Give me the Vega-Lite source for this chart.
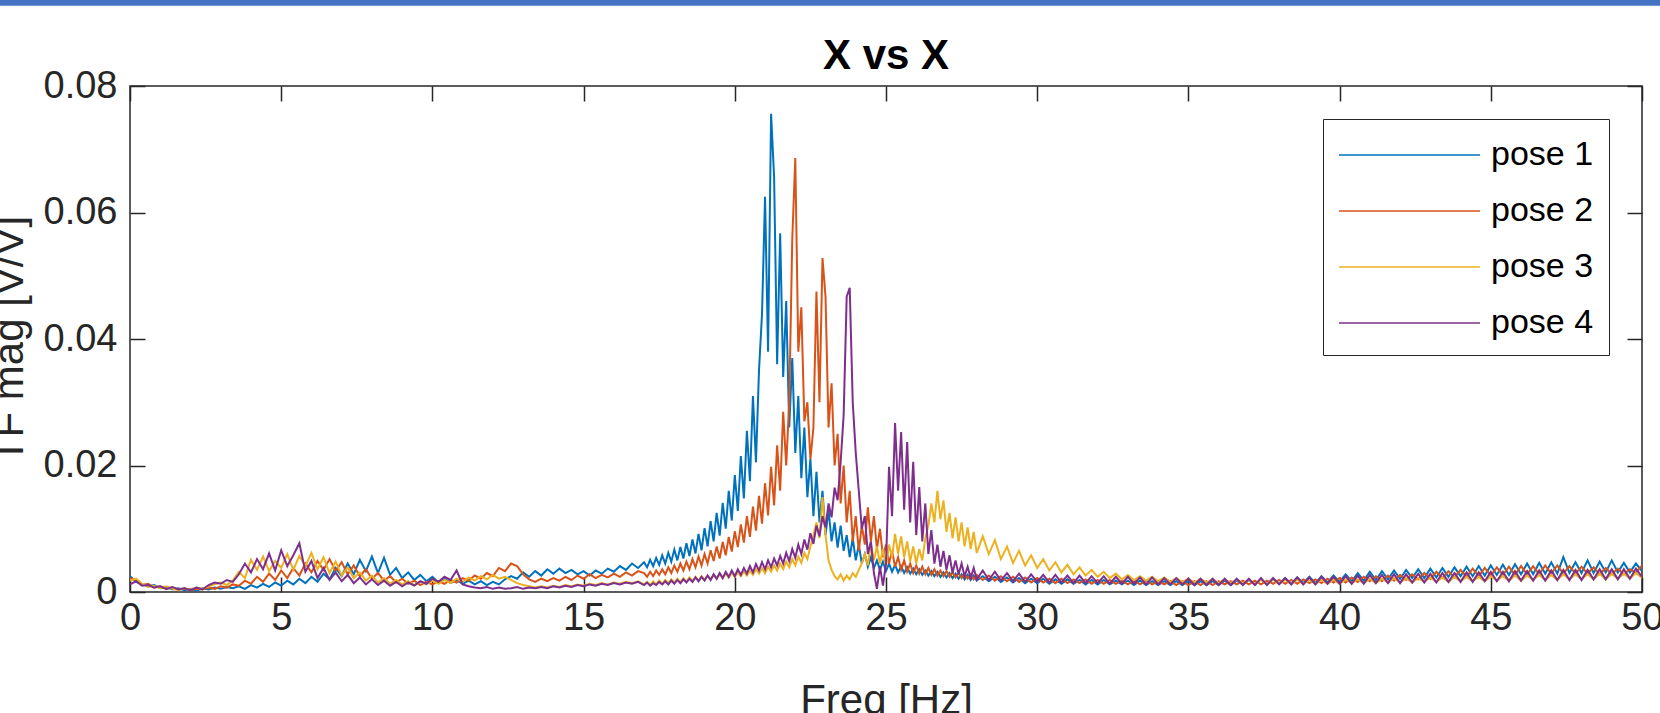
{
"$schema": "https://vega.github.io/schema/vega-lite/v6.json",
"width": 1512, "height": 506,
"autosize": {"type": "none"},
"padding": {"left": 130, "top": 86, "right": 18, "bottom": 121},
"background": "white",
"title": {"text": "X vs X", "fontSize": 42, "fontWeight": "bold", "font": "Liberation Sans", "color": "#000000", "frame": "group", "anchor": "middle", "baseline": "alphabetic", "offset": -112},
"config": {"view": {"stroke": "#262626", "strokeWidth": 1.5}, "font": "Liberation Sans"},
"datasets": {"tf": [
{"f":0.0,"p1":0.0025,"p2":0.0022,"p3":0.0018,"p4":0.0012},
{"f":0.2,"p1":0.0016,"p2":0.0019,"p3":0.0021,"p4":0.0017},
{"f":0.4,"p1":0.0012,"p2":0.0011,"p3":0.0013,"p4":0.0010},
{"f":0.6,"p1":0.0009,"p2":0.0013,"p3":0.0008,"p4":0.0011},
{"f":0.8,"p1":0.0011,"p2":0.0007,"p3":0.0010,"p4":0.0007},
{"f":1.0,"p1":0.0006,"p2":0.0009,"p3":0.0006,"p4":0.0009},
{"f":1.2,"p1":0.0008,"p2":0.0005,"p3":0.0009,"p4":0.0005},
{"f":1.4,"p1":0.0004,"p2":0.0007,"p3":0.0005,"p4":0.0008},
{"f":1.6,"p1":0.0006,"p2":0.0004,"p3":0.0003,"p4":0.0004},
{"f":1.8,"p1":0.0003,"p2":0.0006,"p3":0.0006,"p4":0.0006},
{"f":2.0,"p1":0.0005,"p2":0.0003,"p3":0.0004,"p4":0.0003},
{"f":2.2,"p1":0.0002,"p2":0.0005,"p3":0.0007,"p4":0.0007},
{"f":2.4,"p1":0.0006,"p2":0.0004,"p3":0.0005,"p4":0.0004},
{"f":2.6,"p1":0.0004,"p2":0.0007,"p3":0.0009,"p4":0.0011},
{"f":2.8,"p1":0.0007,"p2":0.0005,"p3":0.0012,"p4":0.0015},
{"f":3.0,"p1":0.0005,"p2":0.0009,"p3":0.0015,"p4":0.0013},
{"f":3.2,"p1":0.0008,"p2":0.0007,"p3":0.0011,"p4":0.0019},
{"f":3.4,"p1":0.0006,"p2":0.0012,"p3":0.0018,"p4":0.0016},
{"f":3.6,"p1":0.0009,"p2":0.0010,"p3":0.0032,"p4":0.0028},
{"f":3.8,"p1":0.0005,"p2":0.0018,"p3":0.0022,"p4":0.0045},
{"f":4.0,"p1":0.0011,"p2":0.0013,"p3":0.0051,"p4":0.0031},
{"f":4.2,"p1":0.0007,"p2":0.0024,"p3":0.0035,"p4":0.0052},
{"f":4.4,"p1":0.0013,"p2":0.0016,"p3":0.0056,"p4":0.0036},
{"f":4.6,"p1":0.0008,"p2":0.0029,"p3":0.0033,"p4":0.0061},
{"f":4.8,"p1":0.0015,"p2":0.0019,"p3":0.0049,"p4":0.0034},
{"f":5.0,"p1":0.0010,"p2":0.0034,"p3":0.0038,"p4":0.0066},
{"f":5.2,"p1":0.0018,"p2":0.0022,"p3":0.0060,"p4":0.0041},
{"f":5.4,"p1":0.0012,"p2":0.0038,"p3":0.0035,"p4":0.0058},
{"f":5.6,"p1":0.0021,"p2":0.0026,"p3":0.0057,"p4":0.0077},
{"f":5.8,"p1":0.0014,"p2":0.0045,"p3":0.0041,"p4":0.0032},
{"f":6.0,"p1":0.0024,"p2":0.0031,"p3":0.0062,"p4":0.0049},
{"f":6.2,"p1":0.0016,"p2":0.0049,"p3":0.0036,"p4":0.0022},
{"f":6.4,"p1":0.0029,"p2":0.0035,"p3":0.0055,"p4":0.0038},
{"f":6.6,"p1":0.0020,"p2":0.0052,"p3":0.0030,"p4":0.0019},
{"f":6.8,"p1":0.0038,"p2":0.0033,"p3":0.0048,"p4":0.0031},
{"f":7.0,"p1":0.0025,"p2":0.0047,"p3":0.0026,"p4":0.0017},
{"f":7.2,"p1":0.0045,"p2":0.0028,"p3":0.0039,"p4":0.0027},
{"f":7.4,"p1":0.0028,"p2":0.0042,"p3":0.0022,"p4":0.0014},
{"f":7.6,"p1":0.0051,"p2":0.0025,"p3":0.0031,"p4":0.0023},
{"f":7.8,"p1":0.0033,"p2":0.0036,"p3":0.0018,"p4":0.0012},
{"f":8.0,"p1":0.0056,"p2":0.0021,"p3":0.0026,"p4":0.0020},
{"f":8.2,"p1":0.0030,"p2":0.0030,"p3":0.0015,"p4":0.0011},
{"f":8.4,"p1":0.0054,"p2":0.0018,"p3":0.0022,"p4":0.0018},
{"f":8.6,"p1":0.0027,"p2":0.0025,"p3":0.0013,"p4":0.0010},
{"f":8.8,"p1":0.0038,"p2":0.0015,"p3":0.0019,"p4":0.0016},
{"f":9.0,"p1":0.0022,"p2":0.0021,"p3":0.0012,"p4":0.0009},
{"f":9.2,"p1":0.0031,"p2":0.0013,"p3":0.0017,"p4":0.0015},
{"f":9.4,"p1":0.0019,"p2":0.0018,"p3":0.0011,"p4":0.0010},
{"f":9.6,"p1":0.0027,"p2":0.0011,"p3":0.0016,"p4":0.0017},
{"f":9.8,"p1":0.0017,"p2":0.0016,"p3":0.0012,"p4":0.0013},
{"f":10.0,"p1":0.0024,"p2":0.0012,"p3":0.0018,"p4":0.0021},
{"f":10.2,"p1":0.0015,"p2":0.0017,"p3":0.0013,"p4":0.0016},
{"f":10.4,"p1":0.0021,"p2":0.0013,"p3":0.0019,"p4":0.0024},
{"f":10.6,"p1":0.0014,"p2":0.0019,"p3":0.0014,"p4":0.0019},
{"f":10.8,"p1":0.0019,"p2":0.0015,"p3":0.0021,"p4":0.0034},
{"f":11.0,"p1":0.0013,"p2":0.0022,"p3":0.0016,"p4":0.0012},
{"f":11.2,"p1":0.0018,"p2":0.0018,"p3":0.0023,"p4":0.0009},
{"f":11.4,"p1":0.0012,"p2":0.0026,"p3":0.0018,"p4":0.0007},
{"f":11.6,"p1":0.0017,"p2":0.0021,"p3":0.0025,"p4":0.0006},
{"f":11.8,"p1":0.0011,"p2":0.0030,"p3":0.0020,"p4":0.0008},
{"f":12.0,"p1":0.0016,"p2":0.0025,"p3":0.0027,"p4":0.0005},
{"f":12.2,"p1":0.0012,"p2":0.0038,"p3":0.0021,"p4":0.0007},
{"f":12.4,"p1":0.0020,"p2":0.0033,"p3":0.0024,"p4":0.0005},
{"f":12.6,"p1":0.0025,"p2":0.0045,"p3":0.0019,"p4":0.0006},
{"f":12.8,"p1":0.0021,"p2":0.0041,"p3":0.0014,"p4":0.0008},
{"f":13.0,"p1":0.0031,"p2":0.0028,"p3":0.0011,"p4":0.0005},
{"f":13.2,"p1":0.0024,"p2":0.0020,"p3":0.0009,"p4":0.0007},
{"f":13.4,"p1":0.0033,"p2":0.0016,"p3":0.0007,"p4":0.0006},
{"f":13.6,"p1":0.0026,"p2":0.0021,"p3":0.0009,"p4":0.0008},
{"f":13.8,"p1":0.0036,"p2":0.0017,"p3":0.0007,"p4":0.0006},
{"f":14.0,"p1":0.0029,"p2":0.0022,"p3":0.0010,"p4":0.0009},
{"f":14.2,"p1":0.0037,"p2":0.0018,"p3":0.0008,"p4":0.0007},
{"f":14.4,"p1":0.0030,"p2":0.0024,"p3":0.0011,"p4":0.0010},
{"f":14.6,"p1":0.0035,"p2":0.0019,"p3":0.0009,"p4":0.0008},
{"f":14.8,"p1":0.0028,"p2":0.0026,"p3":0.0012,"p4":0.0011},
{"f":15.0,"p1":0.0033,"p2":0.0021,"p3":0.0010,"p4":0.0009},
{"f":15.2,"p1":0.0026,"p2":0.0028,"p3":0.0013,"p4":0.0012},
{"f":15.4,"p1":0.0034,"p2":0.0022,"p3":0.0011,"p4":0.0010},
{"f":15.6,"p1":0.0029,"p2":0.0027,"p3":0.0014,"p4":0.0013},
{"f":15.8,"p1":0.0037,"p2":0.0023,"p3":0.0012,"p4":0.0011},
{"f":16.0,"p1":0.0032,"p2":0.0029,"p3":0.0015,"p4":0.0014},
{"f":16.2,"p1":0.0041,"p2":0.0024,"p3":0.0013,"p4":0.0012},
{"f":16.4,"p1":0.0035,"p2":0.0031,"p3":0.0016,"p4":0.0015},
{"f":16.6,"p1":0.0045,"p2":0.0026,"p3":0.0014,"p4":0.0013},
{"f":16.8,"p1":0.0038,"p2":0.0033,"p3":0.0017,"p4":0.0016},
{"f":17.0,"p1":0.0047,"p2":0.0030,"p3":0.0012,"p4":0.0011},
{"f":17.1,"p1":0.0039,"p2":0.0024,"p3":0.0016,"p4":0.0015},
{"f":17.2,"p1":0.0051,"p2":0.0032,"p3":0.0011,"p4":0.0010},
{"f":17.3,"p1":0.0041,"p2":0.0025,"p3":0.0017,"p4":0.0014},
{"f":17.4,"p1":0.0054,"p2":0.0034,"p3":0.0012,"p4":0.0011},
{"f":17.5,"p1":0.0043,"p2":0.0027,"p3":0.0018,"p4":0.0016},
{"f":17.6,"p1":0.0058,"p2":0.0036,"p3":0.0013,"p4":0.0012},
{"f":17.7,"p1":0.0045,"p2":0.0028,"p3":0.0019,"p4":0.0017},
{"f":17.8,"p1":0.0062,"p2":0.0039,"p3":0.0014,"p4":0.0012},
{"f":17.9,"p1":0.0048,"p2":0.0030,"p3":0.0020,"p4":0.0018},
{"f":18.0,"p1":0.0067,"p2":0.0042,"p3":0.0015,"p4":0.0013},
{"f":18.1,"p1":0.0050,"p2":0.0032,"p3":0.0021,"p4":0.0019},
{"f":18.2,"p1":0.0071,"p2":0.0045,"p3":0.0015,"p4":0.0014},
{"f":18.3,"p1":0.0053,"p2":0.0034,"p3":0.0022,"p4":0.0020},
{"f":18.4,"p1":0.0077,"p2":0.0048,"p3":0.0016,"p4":0.0015},
{"f":18.5,"p1":0.0057,"p2":0.0036,"p3":0.0023,"p4":0.0021},
{"f":18.6,"p1":0.0083,"p2":0.0052,"p3":0.0017,"p4":0.0016},
{"f":18.7,"p1":0.0061,"p2":0.0039,"p3":0.0024,"p4":0.0023},
{"f":18.8,"p1":0.0092,"p2":0.0056,"p3":0.0018,"p4":0.0017},
{"f":18.9,"p1":0.0066,"p2":0.0042,"p3":0.0025,"p4":0.0024},
{"f":19.0,"p1":0.0101,"p2":0.0060,"p3":0.0019,"p4":0.0018},
{"f":19.1,"p1":0.0072,"p2":0.0045,"p3":0.0026,"p4":0.0026},
{"f":19.2,"p1":0.0112,"p2":0.0066,"p3":0.0020,"p4":0.0019},
{"f":19.3,"p1":0.0080,"p2":0.0049,"p3":0.0027,"p4":0.0028},
{"f":19.4,"p1":0.0125,"p2":0.0072,"p3":0.0021,"p4":0.0021},
{"f":19.5,"p1":0.0089,"p2":0.0053,"p3":0.0028,"p4":0.0030},
{"f":19.6,"p1":0.0141,"p2":0.0079,"p3":0.0022,"p4":0.0022},
{"f":19.7,"p1":0.0100,"p2":0.0058,"p3":0.0029,"p4":0.0032},
{"f":19.8,"p1":0.0160,"p2":0.0087,"p3":0.0023,"p4":0.0024},
{"f":19.9,"p1":0.0113,"p2":0.0064,"p3":0.0030,"p4":0.0034},
{"f":20.0,"p1":0.0185,"p2":0.0096,"p3":0.0024,"p4":0.0025},
{"f":20.1,"p1":0.0128,"p2":0.0071,"p3":0.0031,"p4":0.0036},
{"f":20.2,"p1":0.0215,"p2":0.0107,"p3":0.0025,"p4":0.0027},
{"f":20.3,"p1":0.0148,"p2":0.0078,"p3":0.0032,"p4":0.0038},
{"f":20.4,"p1":0.0255,"p2":0.0120,"p3":0.0026,"p4":0.0029},
{"f":20.5,"p1":0.0175,"p2":0.0087,"p3":0.0034,"p4":0.0041},
{"f":20.6,"p1":0.0310,"p2":0.0135,"p3":0.0027,"p4":0.0031},
{"f":20.7,"p1":0.0205,"p2":0.0097,"p3":0.0036,"p4":0.0044},
{"f":20.8,"p1":0.0350,"p2":0.0152,"p3":0.0029,"p4":0.0034},
{"f":20.9,"p1":0.0440,"p2":0.0108,"p3":0.0038,"p4":0.0047},
{"f":21.0,"p1":0.0625,"p2":0.0172,"p3":0.0030,"p4":0.0036},
{"f":21.1,"p1":0.0380,"p2":0.0121,"p3":0.0040,"p4":0.0050},
{"f":21.2,"p1":0.0756,"p2":0.0198,"p3":0.0032,"p4":0.0039},
{"f":21.3,"p1":0.0656,"p2":0.0137,"p3":0.0042,"p4":0.0053},
{"f":21.4,"p1":0.0360,"p2":0.0232,"p3":0.0034,"p4":0.0042},
{"f":21.5,"p1":0.0567,"p2":0.0160,"p3":0.0045,"p4":0.0057},
{"f":21.6,"p1":0.0340,"p2":0.0285,"p3":0.0036,"p4":0.0045},
{"f":21.7,"p1":0.0460,"p2":0.0200,"p3":0.0048,"p4":0.0062},
{"f":21.8,"p1":0.0260,"p2":0.0300,"p3":0.0039,"p4":0.0049},
{"f":21.9,"p1":0.0370,"p2":0.0557,"p3":0.0052,"p4":0.0068},
{"f":22.0,"p1":0.0220,"p2":0.0686,"p3":0.0042,"p4":0.0054},
{"f":22.1,"p1":0.0310,"p2":0.0380,"p3":0.0056,"p4":0.0075},
{"f":22.2,"p1":0.0180,"p2":0.0450,"p3":0.0046,"p4":0.0060},
{"f":22.3,"p1":0.0260,"p2":0.0270,"p3":0.0062,"p4":0.0083},
{"f":22.4,"p1":0.0150,"p2":0.0300,"p3":0.0052,"p4":0.0067},
{"f":22.5,"p1":0.0210,"p2":0.0210,"p3":0.0072,"p4":0.0093},
{"f":22.6,"p1":0.0120,"p2":0.0260,"p3":0.0090,"p4":0.0076},
{"f":22.7,"p1":0.0190,"p2":0.0475,"p3":0.0110,"p4":0.0105},
{"f":22.8,"p1":0.0110,"p2":0.0300,"p3":0.0085,"p4":0.0088},
{"f":22.9,"p1":0.0160,"p2":0.0528,"p3":0.0150,"p4":0.0120},
{"f":23.0,"p1":0.0090,"p2":0.0467,"p3":0.0090,"p4":0.0102},
{"f":23.1,"p1":0.0130,"p2":0.0260,"p3":0.0050,"p4":0.0140},
{"f":23.2,"p1":0.0080,"p2":0.0330,"p3":0.0035,"p4":0.0118},
{"f":23.3,"p1":0.0110,"p2":0.0200,"p3":0.0025,"p4":0.0165},
{"f":23.4,"p1":0.0070,"p2":0.0250,"p3":0.0020,"p4":0.0145},
{"f":23.5,"p1":0.0105,"p2":0.0140,"p3":0.0028,"p4":0.0205},
{"f":23.6,"p1":0.0065,"p2":0.0200,"p3":0.0018,"p4":0.0280},
{"f":23.7,"p1":0.0090,"p2":0.0110,"p3":0.0026,"p4":0.0467},
{"f":23.8,"p1":0.0055,"p2":0.0160,"p3":0.0020,"p4":0.0481},
{"f":23.9,"p1":0.0085,"p2":0.0080,"p3":0.0030,"p4":0.0300},
{"f":24.0,"p1":0.0050,"p2":0.0120,"p3":0.0024,"p4":0.0220},
{"f":24.1,"p1":0.0075,"p2":0.0065,"p3":0.0035,"p4":0.0160},
{"f":24.2,"p1":0.0045,"p2":0.0105,"p3":0.0045,"p4":0.0100},
{"f":24.3,"p1":0.0060,"p2":0.0075,"p3":0.0060,"p4":0.0120},
{"f":24.4,"p1":0.0040,"p2":0.0134,"p3":0.0042,"p4":0.0060},
{"f":24.5,"p1":0.0055,"p2":0.0080,"p3":0.0077,"p4":0.0080},
{"f":24.6,"p1":0.0038,"p2":0.0120,"p3":0.0050,"p4":0.0030},
{"f":24.7,"p1":0.0050,"p2":0.0068,"p3":0.0072,"p4":0.0005},
{"f":24.8,"p1":0.0035,"p2":0.0100,"p3":0.0045,"p4":0.0040},
{"f":24.9,"p1":0.0048,"p2":0.0055,"p3":0.0068,"p4":0.0010},
{"f":25.0,"p1":0.0033,"p2":0.0075,"p3":0.0040,"p4":0.0045},
{"f":25.1,"p1":0.0045,"p2":0.0045,"p3":0.0075,"p4":0.0198},
{"f":25.2,"p1":0.0032,"p2":0.0065,"p3":0.0055,"p4":0.0120},
{"f":25.3,"p1":0.0043,"p2":0.0040,"p3":0.0092,"p4":0.0267},
{"f":25.4,"p1":0.0031,"p2":0.0055,"p3":0.0060,"p4":0.0160},
{"f":25.5,"p1":0.0041,"p2":0.0035,"p3":0.0088,"p4":0.0253},
{"f":25.6,"p1":0.0030,"p2":0.0050,"p3":0.0055,"p4":0.0130},
{"f":25.7,"p1":0.0039,"p2":0.0032,"p3":0.0080,"p4":0.0237},
{"f":25.8,"p1":0.0029,"p2":0.0045,"p3":0.0048,"p4":0.0110},
{"f":25.9,"p1":0.0037,"p2":0.0030,"p3":0.0072,"p4":0.0206},
{"f":26.0,"p1":0.0028,"p2":0.0042,"p3":0.0045,"p4":0.0090},
{"f":26.1,"p1":0.0036,"p2":0.0029,"p3":0.0068,"p4":0.0166},
{"f":26.2,"p1":0.0027,"p2":0.0040,"p3":0.0050,"p4":0.0080},
{"f":26.3,"p1":0.0034,"p2":0.0028,"p3":0.0085,"p4":0.0140},
{"f":26.4,"p1":0.0026,"p2":0.0038,"p3":0.0105,"p4":0.0060},
{"f":26.5,"p1":0.0033,"p2":0.0027,"p3":0.0140,"p4":0.0098},
{"f":26.6,"p1":0.0025,"p2":0.0036,"p3":0.0110,"p4":0.0045},
{"f":26.7,"p1":0.0032,"p2":0.0026,"p3":0.0160,"p4":0.0075},
{"f":26.8,"p1":0.0024,"p2":0.0034,"p3":0.0115,"p4":0.0040},
{"f":26.9,"p1":0.0031,"p2":0.0025,"p3":0.0145,"p4":0.0065},
{"f":27.0,"p1":0.0023,"p2":0.0033,"p3":0.0095,"p4":0.0035},
{"f":27.1,"p1":0.0030,"p2":0.0024,"p3":0.0125,"p4":0.0058},
{"f":27.2,"p1":0.0022,"p2":0.0031,"p3":0.0085,"p4":0.0030},
{"f":27.3,"p1":0.0029,"p2":0.0023,"p3":0.0118,"p4":0.0050},
{"f":27.4,"p1":0.0021,"p2":0.0030,"p3":0.0080,"p4":0.0028},
{"f":27.5,"p1":0.0028,"p2":0.0022,"p3":0.0110,"p4":0.0045},
{"f":27.6,"p1":0.0020,"p2":0.0029,"p3":0.0072,"p4":0.0025},
{"f":27.7,"p1":0.0027,"p2":0.0021,"p3":0.0102,"p4":0.0040},
{"f":27.8,"p1":0.0019,"p2":0.0028,"p3":0.0068,"p4":0.0022},
{"f":27.9,"p1":0.0026,"p2":0.0020,"p3":0.0095,"p4":0.0038},
{"f":28.0,"p1":0.0018,"p2":0.0027,"p3":0.0062,"p4":0.0020},
{"f":28.2,"p1":0.0025,"p2":0.0019,"p3":0.0088,"p4":0.0034},
{"f":28.4,"p1":0.0017,"p2":0.0026,"p3":0.0060,"p4":0.0019},
{"f":28.6,"p1":0.0024,"p2":0.0018,"p3":0.0082,"p4":0.0032},
{"f":28.8,"p1":0.0016,"p2":0.0025,"p3":0.0052,"p4":0.0018},
{"f":29.0,"p1":0.0023,"p2":0.0017,"p3":0.0072,"p4":0.0030},
{"f":29.2,"p1":0.0015,"p2":0.0024,"p3":0.0046,"p4":0.0017},
{"f":29.4,"p1":0.0022,"p2":0.0016,"p3":0.0065,"p4":0.0029},
{"f":29.6,"p1":0.0014,"p2":0.0023,"p3":0.0042,"p4":0.0016},
{"f":29.8,"p1":0.0021,"p2":0.0015,"p3":0.0058,"p4":0.0028},
{"f":30.0,"p1":0.0014,"p2":0.0022,"p3":0.0038,"p4":0.0016},
{"f":30.2,"p1":0.0021,"p2":0.0015,"p3":0.0052,"p4":0.0027},
{"f":30.4,"p1":0.0013,"p2":0.0021,"p3":0.0034,"p4":0.0015},
{"f":30.6,"p1":0.0020,"p2":0.0014,"p3":0.0047,"p4":0.0027},
{"f":30.8,"p1":0.0013,"p2":0.0021,"p3":0.0031,"p4":0.0015},
{"f":31.0,"p1":0.0020,"p2":0.0014,"p3":0.0043,"p4":0.0026},
{"f":31.2,"p1":0.0013,"p2":0.0020,"p3":0.0028,"p4":0.0014},
{"f":31.4,"p1":0.0019,"p2":0.0014,"p3":0.0039,"p4":0.0026},
{"f":31.6,"p1":0.0012,"p2":0.0020,"p3":0.0026,"p4":0.0014},
{"f":31.8,"p1":0.0019,"p2":0.0013,"p3":0.0035,"p4":0.0025},
{"f":32.0,"p1":0.0012,"p2":0.0019,"p3":0.0024,"p4":0.0014},
{"f":32.2,"p1":0.0019,"p2":0.0013,"p3":0.0032,"p4":0.0025},
{"f":32.4,"p1":0.0012,"p2":0.0019,"p3":0.0022,"p4":0.0013},
{"f":32.6,"p1":0.0018,"p2":0.0013,"p3":0.0029,"p4":0.0024},
{"f":32.8,"p1":0.0012,"p2":0.0018,"p3":0.0020,"p4":0.0013},
{"f":33.0,"p1":0.0018,"p2":0.0012,"p3":0.0027,"p4":0.0024},
{"f":33.2,"p1":0.0011,"p2":0.0018,"p3":0.0019,"p4":0.0013},
{"f":33.4,"p1":0.0018,"p2":0.0012,"p3":0.0025,"p4":0.0023},
{"f":33.6,"p1":0.0011,"p2":0.0018,"p3":0.0018,"p4":0.0012},
{"f":33.8,"p1":0.0017,"p2":0.0012,"p3":0.0024,"p4":0.0023},
{"f":34.0,"p1":0.0011,"p2":0.0017,"p3":0.0017,"p4":0.0012},
{"f":34.2,"p1":0.0017,"p2":0.0012,"p3":0.0023,"p4":0.0022},
{"f":34.4,"p1":0.0011,"p2":0.0017,"p3":0.0016,"p4":0.0012},
{"f":34.6,"p1":0.0017,"p2":0.0011,"p3":0.0022,"p4":0.0022},
{"f":34.8,"p1":0.0011,"p2":0.0017,"p3":0.0016,"p4":0.0012},
{"f":35.0,"p1":0.0017,"p2":0.0011,"p3":0.0021,"p4":0.0021},
{"f":35.2,"p1":0.0011,"p2":0.0017,"p3":0.0015,"p4":0.0011},
{"f":35.4,"p1":0.0017,"p2":0.0011,"p3":0.0021,"p4":0.0021},
{"f":35.6,"p1":0.0011,"p2":0.0017,"p3":0.0015,"p4":0.0011},
{"f":35.8,"p1":0.0017,"p2":0.0011,"p3":0.0020,"p4":0.0021},
{"f":36.0,"p1":0.0011,"p2":0.0017,"p3":0.0014,"p4":0.0011},
{"f":36.2,"p1":0.0018,"p2":0.0012,"p3":0.0020,"p4":0.0021},
{"f":36.4,"p1":0.0011,"p2":0.0017,"p3":0.0014,"p4":0.0011},
{"f":36.6,"p1":0.0018,"p2":0.0012,"p3":0.0019,"p4":0.0021},
{"f":36.8,"p1":0.0012,"p2":0.0018,"p3":0.0014,"p4":0.0011},
{"f":37.0,"p1":0.0019,"p2":0.0012,"p3":0.0019,"p4":0.0021},
{"f":37.2,"p1":0.0012,"p2":0.0018,"p3":0.0013,"p4":0.0011},
{"f":37.4,"p1":0.0020,"p2":0.0012,"p3":0.0019,"p4":0.0022},
{"f":37.6,"p1":0.0012,"p2":0.0018,"p3":0.0013,"p4":0.0011},
{"f":37.8,"p1":0.0021,"p2":0.0013,"p3":0.0019,"p4":0.0022},
{"f":38.0,"p1":0.0013,"p2":0.0019,"p3":0.0013,"p4":0.0012},
{"f":38.2,"p1":0.0022,"p2":0.0013,"p3":0.0019,"p4":0.0022},
{"f":38.4,"p1":0.0013,"p2":0.0019,"p3":0.0013,"p4":0.0012},
{"f":38.6,"p1":0.0023,"p2":0.0013,"p3":0.0019,"p4":0.0023},
{"f":38.8,"p1":0.0014,"p2":0.0020,"p3":0.0013,"p4":0.0012},
{"f":39.0,"p1":0.0024,"p2":0.0014,"p3":0.0019,"p4":0.0023},
{"f":39.2,"p1":0.0014,"p2":0.0020,"p3":0.0013,"p4":0.0012},
{"f":39.4,"p1":0.0025,"p2":0.0014,"p3":0.0019,"p4":0.0024},
{"f":39.6,"p1":0.0015,"p2":0.0021,"p3":0.0013,"p4":0.0013},
{"f":39.8,"p1":0.0026,"p2":0.0015,"p3":0.0020,"p4":0.0024},
{"f":40.0,"p1":0.0016,"p2":0.0022,"p3":0.0013,"p4":0.0013},
{"f":40.2,"p1":0.0028,"p2":0.0015,"p3":0.0020,"p4":0.0025},
{"f":40.4,"p1":0.0017,"p2":0.0023,"p3":0.0014,"p4":0.0013},
{"f":40.6,"p1":0.0030,"p2":0.0016,"p3":0.0020,"p4":0.0026},
{"f":40.8,"p1":0.0018,"p2":0.0024,"p3":0.0014,"p4":0.0013},
{"f":41.0,"p1":0.0032,"p2":0.0017,"p3":0.0021,"p4":0.0027},
{"f":41.2,"p1":0.0019,"p2":0.0025,"p3":0.0014,"p4":0.0014},
{"f":41.4,"p1":0.0033,"p2":0.0017,"p3":0.0021,"p4":0.0027},
{"f":41.6,"p1":0.0020,"p2":0.0026,"p3":0.0015,"p4":0.0014},
{"f":41.8,"p1":0.0034,"p2":0.0018,"p3":0.0022,"p4":0.0028},
{"f":42.0,"p1":0.0021,"p2":0.0027,"p3":0.0015,"p4":0.0014},
{"f":42.2,"p1":0.0035,"p2":0.0019,"p3":0.0022,"p4":0.0028},
{"f":42.4,"p1":0.0022,"p2":0.0028,"p3":0.0015,"p4":0.0015},
{"f":42.6,"p1":0.0036,"p2":0.0020,"p3":0.0022,"p4":0.0029},
{"f":42.8,"p1":0.0022,"p2":0.0030,"p3":0.0016,"p4":0.0015},
{"f":43.0,"p1":0.0037,"p2":0.0021,"p3":0.0023,"p4":0.0029},
{"f":43.2,"p1":0.0023,"p2":0.0032,"p3":0.0016,"p4":0.0015},
{"f":43.4,"p1":0.0038,"p2":0.0022,"p3":0.0023,"p4":0.0030},
{"f":43.6,"p1":0.0024,"p2":0.0033,"p3":0.0016,"p4":0.0016},
{"f":43.8,"p1":0.0039,"p2":0.0023,"p3":0.0024,"p4":0.0030},
{"f":44.0,"p1":0.0025,"p2":0.0035,"p3":0.0017,"p4":0.0016},
{"f":44.2,"p1":0.0040,"p2":0.0024,"p3":0.0024,"p4":0.0031},
{"f":44.4,"p1":0.0025,"p2":0.0037,"p3":0.0017,"p4":0.0016},
{"f":44.6,"p1":0.0041,"p2":0.0025,"p3":0.0024,"p4":0.0031},
{"f":44.8,"p1":0.0026,"p2":0.0038,"p3":0.0017,"p4":0.0017},
{"f":45.0,"p1":0.0042,"p2":0.0026,"p3":0.0025,"p4":0.0032},
{"f":45.2,"p1":0.0027,"p2":0.0039,"p3":0.0018,"p4":0.0017},
{"f":45.4,"p1":0.0043,"p2":0.0027,"p3":0.0025,"p4":0.0032},
{"f":45.6,"p1":0.0027,"p2":0.0040,"p3":0.0018,"p4":0.0017},
{"f":45.8,"p1":0.0044,"p2":0.0027,"p3":0.0026,"p4":0.0033},
{"f":46.0,"p1":0.0028,"p2":0.0041,"p3":0.0018,"p4":0.0018},
{"f":46.2,"p1":0.0045,"p2":0.0028,"p3":0.0026,"p4":0.0033},
{"f":46.4,"p1":0.0028,"p2":0.0041,"p3":0.0019,"p4":0.0018},
{"f":46.6,"p1":0.0046,"p2":0.0028,"p3":0.0027,"p4":0.0034},
{"f":46.8,"p1":0.0029,"p2":0.0042,"p3":0.0019,"p4":0.0018},
{"f":47.0,"p1":0.0047,"p2":0.0029,"p3":0.0027,"p4":0.0034},
{"f":47.2,"p1":0.0029,"p2":0.0042,"p3":0.0019,"p4":0.0019},
{"f":47.4,"p1":0.0055,"p2":0.0029,"p3":0.0028,"p4":0.0035},
{"f":47.6,"p1":0.0030,"p2":0.0041,"p3":0.0020,"p4":0.0019},
{"f":47.8,"p1":0.0047,"p2":0.0029,"p3":0.0028,"p4":0.0035},
{"f":48.0,"p1":0.0030,"p2":0.0040,"p3":0.0020,"p4":0.0019},
{"f":48.2,"p1":0.0050,"p2":0.0029,"p3":0.0028,"p4":0.0035},
{"f":48.4,"p1":0.0030,"p2":0.0039,"p3":0.0020,"p4":0.0020},
{"f":48.6,"p1":0.0048,"p2":0.0028,"p3":0.0029,"p4":0.0036},
{"f":48.8,"p1":0.0031,"p2":0.0038,"p3":0.0020,"p4":0.0020},
{"f":49.0,"p1":0.0050,"p2":0.0028,"p3":0.0029,"p4":0.0036},
{"f":49.2,"p1":0.0031,"p2":0.0037,"p3":0.0021,"p4":0.0020},
{"f":49.4,"p1":0.0046,"p2":0.0028,"p3":0.0029,"p4":0.0036},
{"f":49.6,"p1":0.0031,"p2":0.0036,"p3":0.0021,"p4":0.0021},
{"f":49.8,"p1":0.0045,"p2":0.0030,"p3":0.0030,"p4":0.0037},
{"f":50.0,"p1":0.0033,"p2":0.0042,"p3":0.0022,"p4":0.0024}
]},
"layer": [
{
"data": {"values": [{}]},
"mark": {"type": "rect", "color": "#4472C4", "clip": false},
"encoding": {
"x": {"datum": -10, "type": "quantitative", "scale": {"domain": [0, 50], "nice": false, "zero": false},
"axis": {"orient": "top", "title": null, "labels": false, "domain": false, "grid": false, "values": [0,5,10,15,20,25,30,35,40,45,50], "tickSize": -15, "tickWidth": 1.5, "tickColor": "#262626"}},
"x2": {"datum": 60},
"y": {"datum": 0.0937, "type": "quantitative", "scale": {"domain": [0, 0.08], "nice": false, "zero": false},
"axis": {"orient": "right", "title": null, "labels": false, "domain": false, "grid": false, "values": [0,0.02,0.04,0.06,0.08], "tickSize": -15, "tickWidth": 1.5, "tickColor": "#262626"}},
"y2": {"datum": 0.0927}
}
},
{
"data": {"name": "tf"},
"transform": [{"fold": ["p1", "p2", "p3", "p4"], "as": ["pose", "v"]}],
"mark": {"type": "line", "strokeWidth": 2, "clip": true},
"encoding": {
"x": {"field": "f", "type": "quantitative", "scale": {"domain": [0, 50], "nice": false, "zero": false},
"axis": {"orient": "bottom", "title": "Freq [Hz]", "values": [0,5,10,15,20,25,30,35,40,45,50], "domain": false, "grid": false, "tickSize": -15, "tickWidth": 1.5, "tickColor": "#262626", "labelFontSize": 38, "labelColor": "#262626", "labelPadding": 22, "labelFlush": false, "labelOverlap": false, "labelBound": false, "titleFontSize": 42, "titleFontWeight": "normal", "titleColor": "#262626", "titlePadding": 43}},
"y": {"field": "v", "type": "quantitative", "scale": {"domain": [0, 0.08], "nice": false, "zero": false},
"axis": {"orient": "left", "title": "TF mag [V/V]", "values": [0,0.02,0.04,0.06,0.08], "format": "~g", "domain": false, "grid": false, "tickSize": -15, "tickWidth": 1.5, "tickColor": "#262626", "labelFontSize": 38, "labelColor": "#262626", "labelPadding": 28, "labelFlush": false, "labelOverlap": false, "labelBound": false, "titleFontSize": 42, "titleFontWeight": "normal", "titleColor": "#262626", "titlePadding": 12}},
"color": {"field": "pose", "type": "nominal", "scale": {"domain": ["p1", "p2", "p3", "p4"], "range": ["#0072BD", "#D95319", "#EDB120", "#7E2F8E"]},
"legend": {"orient": "top-right", "offset": 33, "title": null, "labelExpr": "'pose ' + slice(datum.label, 1)", "labelFontSize": 34, "labelColor": "#000000", "symbolType": "M-1,0H6.05", "symbolSize": 1600, "symbolStrokeWidth": 1.5, "strokeColor": "#262626", "fillColor": "white", "padding": 15, "rowPadding": 18, "labelOffset": 111}}
}
}
],
"resolve": {"axis": {"x": "independent", "y": "independent"}}
}
